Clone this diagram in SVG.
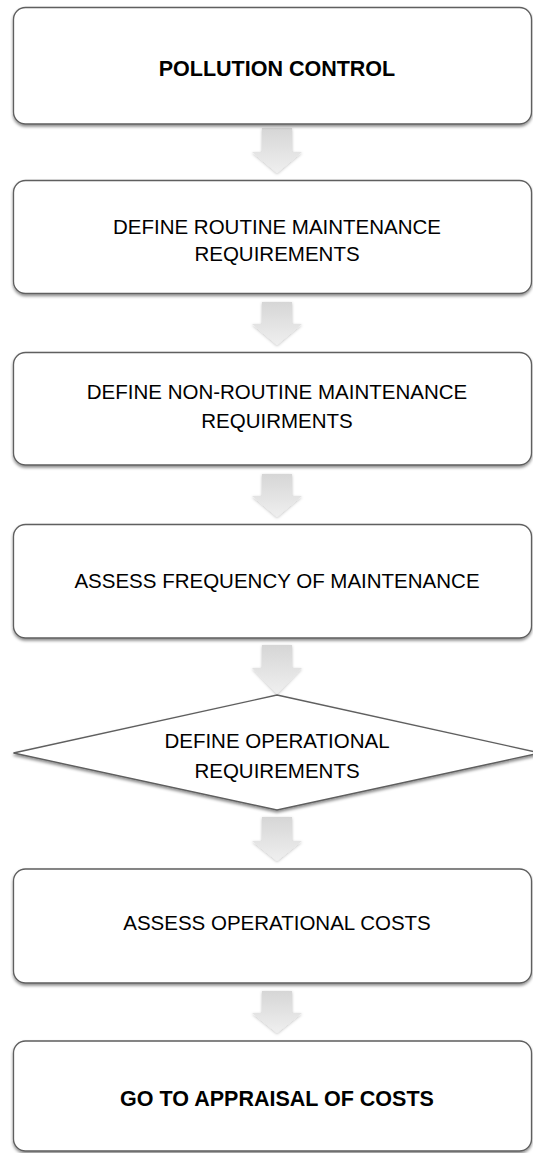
<svg xmlns="http://www.w3.org/2000/svg" width="533" height="1153" viewBox="0 0 533 1153">
<style>
.box{fill:#ffffff;stroke:#5e5e5e;stroke-width:1.3;filter:url(#sh)}
.arrow{fill:url(#ag);stroke:none;filter:url(#ash)}
.t{font-family:"Liberation Sans",Arial,sans-serif;font-size:20.5px;fill:#000;text-anchor:middle}
.b{font-weight:bold;font-size:21.5px}
</style>
<defs>
<filter id="sh" x="-5%" y="-10%" width="110%" height="125%">
<feDropShadow dx="0" dy="2" stdDeviation="1.8" flood-color="#000" flood-opacity="0.45"/>
</filter>
<filter id="ash" x="-30%" y="-20%" width="160%" height="150%">
<feDropShadow dx="0" dy="1" stdDeviation="1.5" flood-color="#000" flood-opacity="0.25"/>
</filter>
<linearGradient id="ag" x1="0" y1="0" x2="0" y2="1">
<stop offset="0" stop-color="#d6d6d6"/>
<stop offset="1" stop-color="#efefef"/>
</linearGradient>
</defs>
<rect width="533" height="1153" fill="#ffffff"/>
<g id="connectors">
<path class="arrow" d="M262,128 H292 V152 H302 L277,173 L252,152 H262 Z"/>
<path class="arrow" d="M262,302 H292 V324 H302 L277,345 L252,324 H262 Z"/>
<path class="arrow" d="M262,474 H292 V496 H302 L277,517 L252,496 H262 Z"/>
<path class="arrow" d="M262,645 H292 V668 H302 L277,694 L252,668 H262 Z"/>
<path class="arrow" d="M262,817 H292 V841 H302 L277,861 L252,841 H262 Z"/>
<path class="arrow" d="M262,991 H292 V1013 H302 L277,1033 L252,1013 H262 Z"/>
</g>
<g id="n1">
<rect class="box" x="13.5" y="7.5" width="518" height="116.5" rx="12"/>
<text class="t b" x="277" y="76">POLLUTION CONTROL</text>
</g>
<g id="n2">
<rect class="box" x="13.5" y="180.5" width="518" height="113" rx="12"/>
<text class="t" x="277" y="234">DEFINE ROUTINE MAINTENANCE</text>
<text class="t" x="277" y="261">REQUIREMENTS</text>
</g>
<g id="n3">
<rect class="box" x="13.5" y="352.5" width="518" height="112.5" rx="12"/>
<text class="t" x="277" y="399">DEFINE NON-ROUTINE MAINTENANCE</text>
<text class="t" x="277" y="428">REQUIRMENTS</text>
</g>
<g id="n4">
<rect class="box" x="13.5" y="524.5" width="518" height="113.5" rx="12"/>
<text class="t" x="277" y="588">ASSESS FREQUENCY OF MAINTENANCE</text>
</g>
<g id="n5">
<polygon class="box" points="277,695 540,753 277,810 13.5,753"/>
<text class="t" x="277" y="748">DEFINE OPERATIONAL</text>
<text class="t" x="277" y="778">REQUIREMENTS</text>
</g>
<g id="n6">
<rect class="box" x="13.5" y="869" width="518" height="114" rx="12"/>
<text class="t" x="277" y="930">ASSESS OPERATIONAL COSTS</text>
</g>
<g id="n7">
<rect class="box" x="13.5" y="1041" width="518" height="110" rx="12"/>
<text class="t b" x="277" y="1106">GO TO APPRAISAL OF COSTS</text>
</g>
</svg>
